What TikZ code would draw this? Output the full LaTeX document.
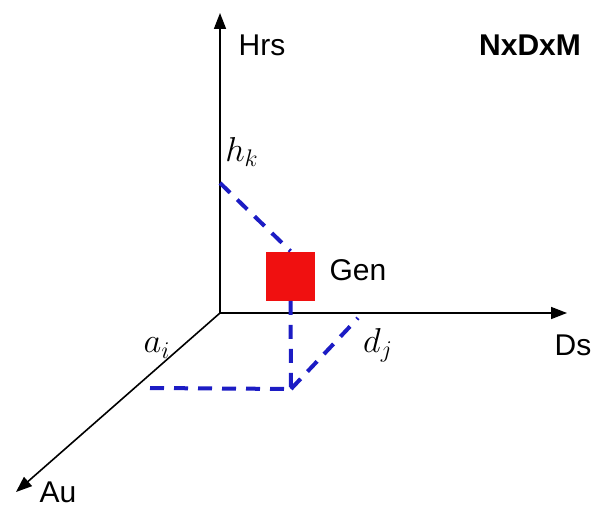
\documentclass[tikz,border=0pt]{standalone}
\usepackage{fontspec}
\setmainfont{Liberation Sans}
\usetikzlibrary{positioning,arrows.meta}
\definecolor{guideblue}{HTML}{1c1cc4}
\definecolor{genred}{HTML}{f01010}

\begin{document}
\begin{tikzpicture}[x=0.5pt, y=-0.5pt, >={Triangle[length=8pt,width=6pt]},
  axis/.style={line width=0.8pt, ->},
  guide/.style={guideblue, line width=2pt, dash pattern=on 7pt off 5pt},
  lbl/.style={font=\fontsize{15}{18}\selectfont, inner sep=0pt},
  mlbl/.style={font=\fontsize{17}{20}\selectfont, inner sep=0pt}]
  \useasboundingbox (0,0) rectangle (603,507);

  % Axes
  \coordinate (o) at (220,313);
  \coordinate (hrs) at (220,13);
  \coordinate (ds) at (567,313);
  \coordinate (au) at (16,492);
  \draw[axis] (o) -- (hrs);
  \draw[axis] (o) -- (ds);
  \draw[axis] (o) -- (au);

  \node[lbl] (hrslbl) at (262,45) {Hrs};
  \node[lbl] (dslbl) at (573,345) {Ds};
  \node[lbl] (aulbl) at (58,492) {Au};
  \node[lbl, font=\fontsize{15}{18}\selectfont\bfseries] (title) at (530,45) {NxDxM};

  % Generator and its projections
  \node[fill=genred, minimum size=24.5pt, inner sep=0pt] (gen) at (290.5,276) {};
  \node[lbl] (genlbl) at (358,270) {Gen};

  \coordinate (hk) at (220,183);
  \coordinate (ai) at (150,388);
  \coordinate (dj) at (358,318);
  \coordinate (p) at (291,389);
  \draw[guide] (hk) -- (gen.north);
  \draw[guide] (gen.south) -- (p);
  \draw[guide] (ai) -- (p);
  \draw[guide] (p) -- (dj);

  \node[mlbl] (hklbl) at (242,152) {$h_k$};
  \node[mlbl] (ailbl) at (157,348) {$a_i$};
  \node[mlbl] (djlbl) at (378,345) {$d_j$};
\end{tikzpicture}
\end{document}
